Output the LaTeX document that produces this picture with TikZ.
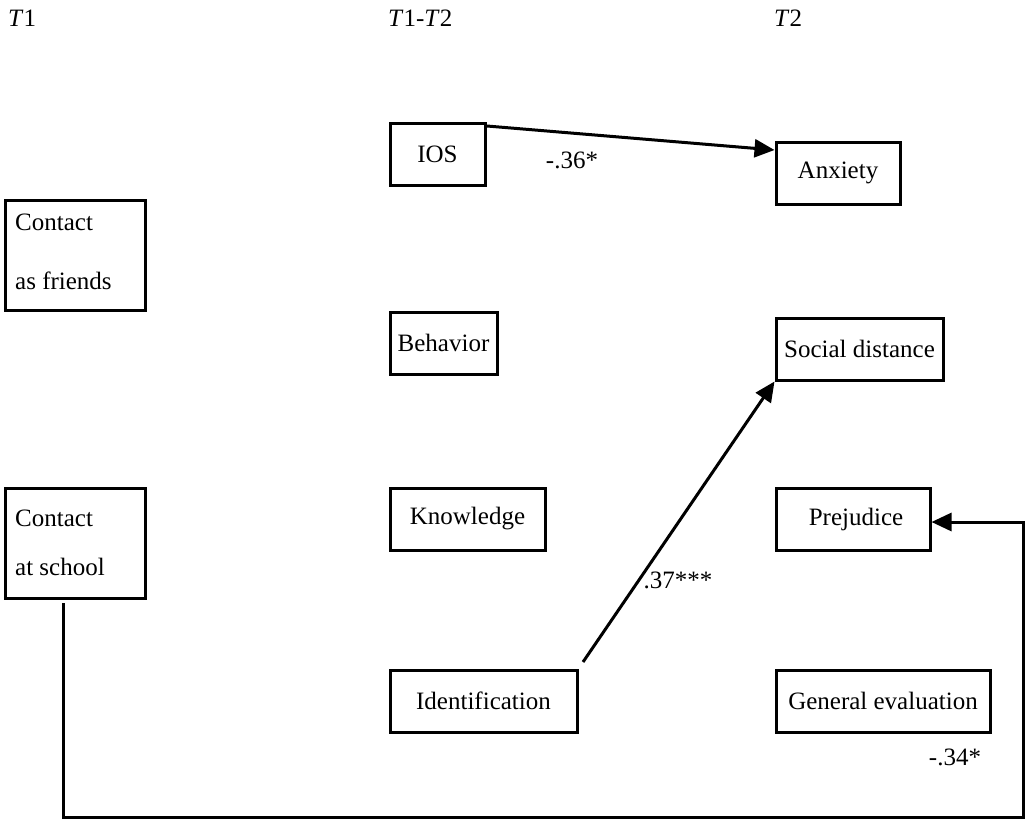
\documentclass[tikz,border=0pt]{standalone}
\usepackage{fontspec}
\setmainfont{Liberation Serif}
\usetikzlibrary{arrows.meta}
\begin{document}
\begin{tikzpicture}[x=1pt,y=-1pt,
  box/.style={draw,line width=3pt,inner sep=0pt,font=\fontsize{25}{28}\selectfont},
  lbl/.style={font=\fontsize{25}{28}\selectfont,inner sep=0pt},
  conn/.style={line width=3pt,-{Triangle[length=20pt,width=18pt]}}]
\useasboundingbox (0,0) rectangle (1027,820);
\node[lbl,anchor=west] (t1) at (8,18) {\textit{T}1};
\node[lbl,anchor=west] (t12) at (388,18) {\textit{T}1-\textit{T}2};
\node[lbl,anchor=west] (t2) at (774,18) {\textit{T}2};
% boxes
\node[box,minimum width=95pt,minimum height=62pt] (ios) at (437.5,154) {IOS};
\node[box,minimum width=124pt,minimum height=62pt] (anx) at (838,173) {Anxiety};
\node[box,minimum width=140pt,minimum height=110pt] (cf) at (75,255) {};
\node[lbl,anchor=west] (cft1) at (15,222) {Contact};
\node[lbl,anchor=west] (cft2) at (15,281) {as friends};
\node[box,minimum width=107pt,minimum height=62pt] (beh) at (443.5,343) {Behavior};
\node[box,minimum width=167pt,minimum height=62pt] (sd) at (859.5,349) {Social distance};
\node[box,minimum width=140pt,minimum height=110pt] (cs) at (75,543) {};
\node[lbl,anchor=west] (cst1) at (15,518) {Contact};
\node[lbl,anchor=west] (cst2) at (15,567) {at school};
\node[box,minimum width=155pt,minimum height=62pt] (kn) at (467.5,519) {Knowledge};
\node[box,minimum width=154pt,minimum height=62pt,text width=154pt,align=center] (pr) at (853,519) {\hspace*{6pt}Prejudice};
\node[box,minimum width=187pt,minimum height=62pt] (id) at (483.5,701) {Identification};
\node[box,minimum width=214pt,minimum height=62pt] (ge) at (883,701) {General evaluation};
% coordinates
\coordinate (iosS) at (487,126);
\coordinate (idS) at (583,662);
\coordinate (csS) at (63,603);
\coordinate (c1) at (63,817);
\coordinate (c2) at (1023,817);
\coordinate (c3) at (1023,522);
% connectors
\draw[conn] (iosS) -- (anx.north west |- 0,150) coordinate (anxE);
\draw[conn] (idS) -- (sd.south west);
\draw[conn,line join=miter] (csS) -- (c1) -- (c2) -- (c3) -- (pr.east |- c3);
% labels
\node[lbl] (l1) at (572,160) {-.36*};
\node[lbl] (l2) at (678,580) {.37***};
\node[lbl] (l3) at (955,757) {-.34*};
\end{tikzpicture}
\end{document}
